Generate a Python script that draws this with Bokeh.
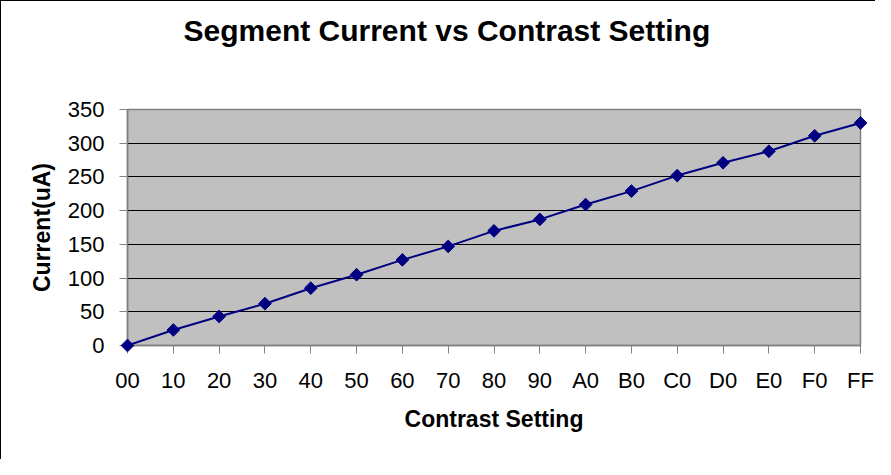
import math
from bokeh.plotting import figure
from bokeh.models import Range1d, FixedTicker, Title
from bokeh.embed import file_html
from bokeh.resources import INLINE

# ---- data ----
categories = ["00", "10", "20", "30", "40", "50", "60", "70", "80", "90",
              "A0", "B0", "C0", "D0", "E0", "F0", "FF"]
current_ua = [0, 23, 43, 62, 85, 105, 127, 147, 170, 187,
              209, 229, 252, 271, 288, 311, 330]
y_ticks = [0, 50, 100, 150, 200, 250, 300, 350]

title_text = "Segment Current vs Contrast Setting"
x_title = "Contrast Setting"
y_title = "Current(uA)"

FONT = "Liberation Sans"

x_idx = list(range(len(categories)))

p = figure(width=875, height=459, output_backend="svg", toolbar_location=None,
           x_range=Range1d(0, len(categories) - 1), y_range=Range1d(0, 350),
           min_border_left=126, min_border_right=16, min_border_top=108,
           min_border_bottom=115,
           styles={"border-top": "1px solid #000000", "border-left": "1px solid #000000"})
p.title = None

# spacer between frame and chart title (closest to the frame)
p.add_layout(Title(text=" ", text_font_size="1px", standoff=60), "above")
# chart title
p.add_layout(Title(text=title_text, align="left", text_font=FONT,
                   text_font_size="30px", text_font_style="bold", text_color="black",
                   standoff=0, offset=56), "above")

p.background_fill_color = "#C0C0C0"
p.border_fill_color = "white"
p.outline_line_color = "#808080"
p.outline_line_width = 1.5

# grid
p.xgrid.grid_line_color = None
p.ygrid.grid_line_color = "black"
p.ygrid.grid_line_width = 1

# axes
p.xaxis.ticker = FixedTicker(ticks=x_idx)
p.xaxis.major_label_overrides = {i: c for i, c in zip(x_idx, categories)}
p.yaxis.ticker = FixedTicker(ticks=y_ticks)

for ax in (p.xaxis, p.yaxis):
    ax.axis_line_color = "#808080"
    ax.axis_line_width = 1.5
    ax.major_tick_line_color = "#808080"
    ax.major_tick_out = 8
    ax.major_tick_in = 0
    ax.minor_tick_line_color = None
    ax.major_label_text_font = FONT
    ax.major_label_text_font_size = "22px"
    ax.major_label_text_color = "black"
    ax.axis_label_text_font = FONT
    ax.axis_label_text_font_size = "23px"
    ax.axis_label_text_font_style = "bold"
    ax.axis_label_text_color = "black"

p.xaxis.axis_label = x_title
p.yaxis.axis_label = y_title
p.xaxis.major_label_standoff = 14
p.yaxis.major_label_standoff = 15
p.xaxis.axis_label_standoff = 10
p.yaxis.axis_label_standoff = 10

# series
p.line(x_idx, current_ua, line_color="#000080", line_width=2)
p.scatter(x_idx, current_ua, marker="square", angle=math.pi / 4, size=9,
          fill_color="#000080", line_color="#000080", level="overlay")

open("out.html", "w").write(file_html(p, INLINE))
